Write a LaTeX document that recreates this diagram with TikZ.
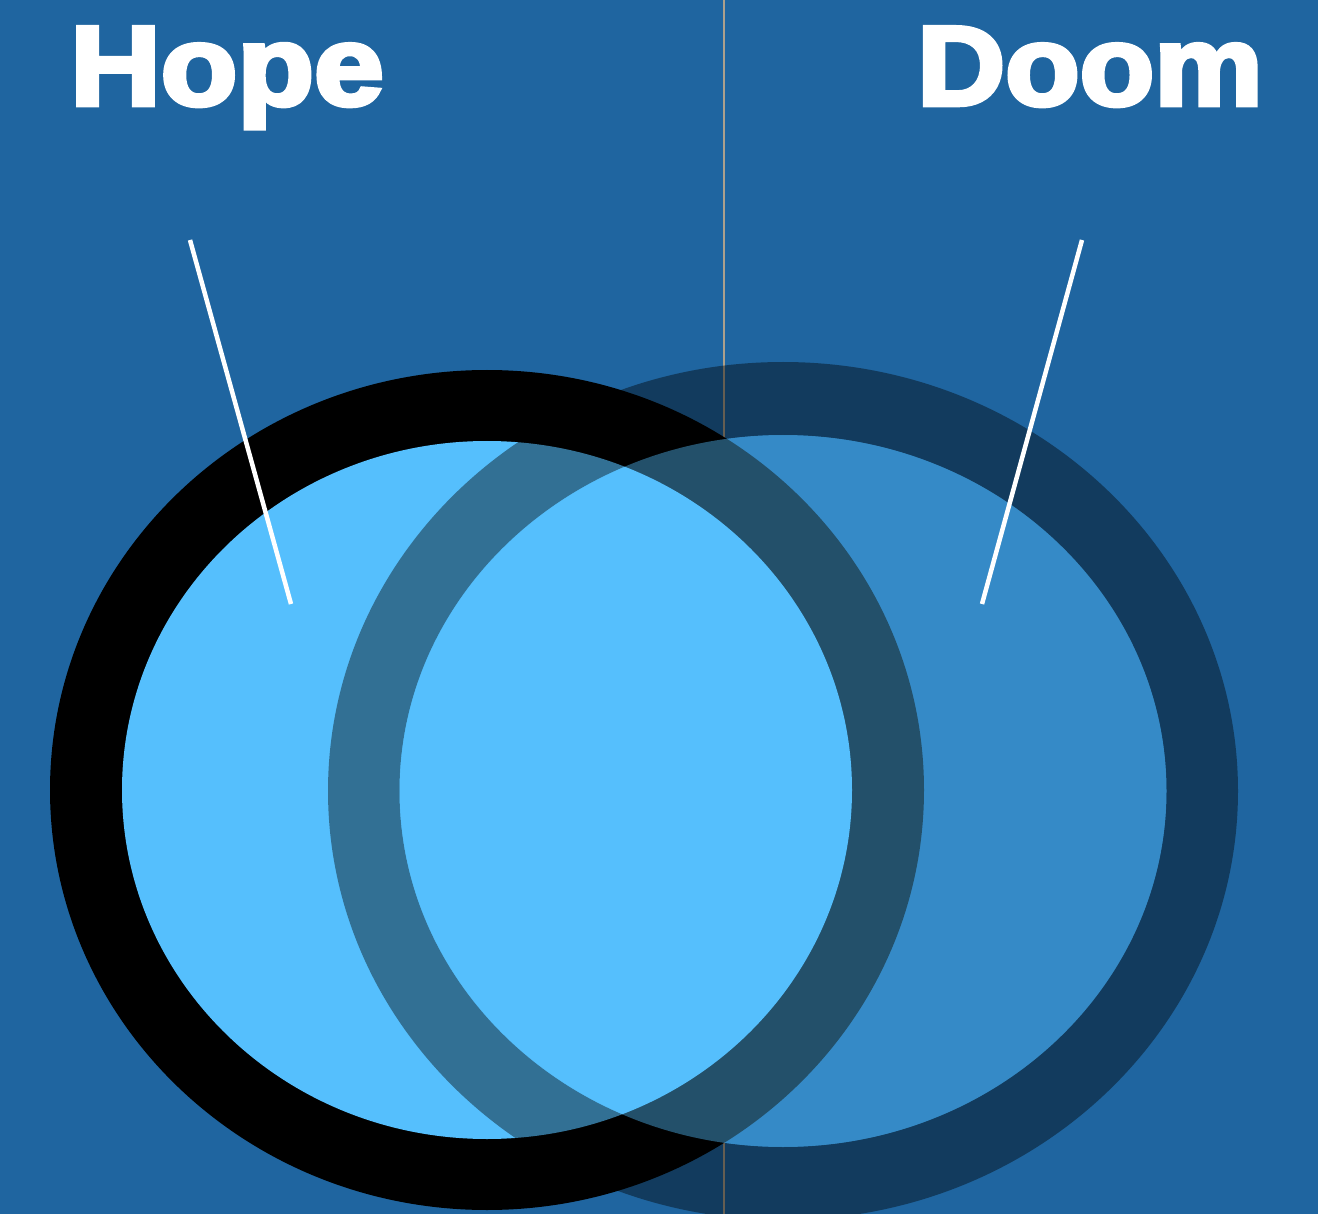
\documentclass[tikz,border=0pt]{standalone}
\usepackage{fontspec}
\newfontfamily\heavyfont{Liberation Sans}[BoldFeatures={FakeBold=4}]
\definecolor{bgblue}{RGB}{31,101,160}
\definecolor{lightblue}{RGB}{85,191,253}
\definecolor{seam}{RGB}{172,160,140}
\tikzset{
  title/.style={text=white, inner sep=0pt, font=\heavyfont\bfseries\fontsize{113}{113}\selectfont},
  pointer/.style={draw=white, line width=4.5pt},
  ringfill/.style={fill=black},
  innerfill/.style={fill=lightblue}
}
\begin{document}
\begin{tikzpicture}[x=1pt,y=-1pt]
  \useasboundingbox (0,0) rectangle (1318,1214);
  \fill[bgblue] (0,0) rectangle (1318,1214);
  % seam line
  \coordinate (seamtop) at (724,0);
  \coordinate (seambot) at (724,1214);
  \draw[seam, line width=1.2pt] (seamtop) -- (seambot);
  % left circle (opaque)
  \coordinate (lc) at (487,790);
  \fill[ringfill] (lc) ellipse [x radius=437pt, y radius=420pt];
  \fill[innerfill] (lc) ellipse [x radius=365pt, y radius=349pt];
  % right circle (translucent)
  \coordinate (rc) at (783,791);
  \fill[ringfill, opacity=0.41, even odd rule] (rc) ellipse [x radius=455pt, y radius=429pt]
        (rc) ellipse [x radius=383.5pt, y radius=356pt];
  \fill[innerfill, opacity=0.42] (rc) ellipse [x radius=383.5pt, y radius=356pt];
  % pointers
  \coordinate (hopeA) at (190,240);
  \coordinate (hopeB) at (291,604);
  \coordinate (doomA) at (1082,240);
  \coordinate (doomB) at (982,604);
  \draw[pointer] (hopeA) -- (hopeB);
  \draw[pointer] (doomA) -- (doomB);
  % titles
  \node[title, anchor=base west, xscale=1.11] (hope) at (70,105) {Hope};
  \node[title, anchor=base east, xscale=1.08] (doom) at (1263,105) {Doom};
\end{tikzpicture}
\end{document}
